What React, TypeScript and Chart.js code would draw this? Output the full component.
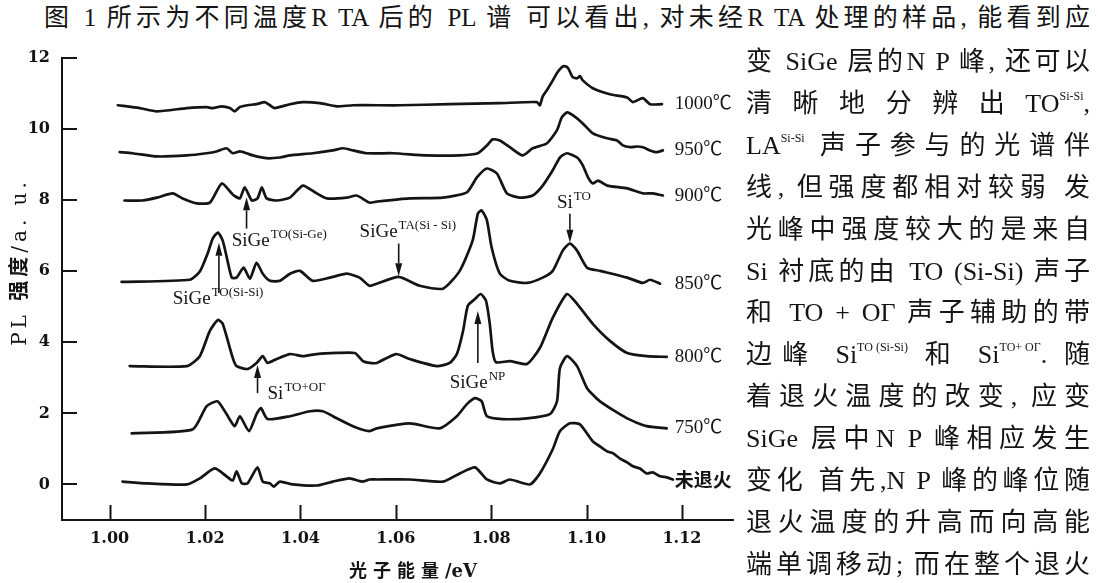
import React, { useEffect, useRef } from "react";
import { Chart, registerables } from "chart.js";

Chart.register(...registerables);

// ---------- data ----------
const energyTicks = [1.0, 1.02, 1.04, 1.06, 1.08, 1.1, 1.12];
const intensityTicks = [0, 2, 4, 6, 8, 10, 12];
const seriesNames = ["1000℃", "950℃", "900℃", "850℃", "800℃", "750℃", "未退火"];

const e1000 = [1.0017, 1.0063, 1.0099, 1.0162, 1.0203, 1.0216, 1.0235, 1.0252, 1.0262, 1.0273, 1.0289, 1.0308, 1.0325, 1.0336, 1.0346, 1.0378, 1.0405, 1.0441, 1.0476, 1.051, 1.0608, 1.0713, 1.0818, 1.0896, 1.0902, 1.0908, 1.0917, 1.0927, 1.0938, 1.0948, 1.0954, 1.0961, 1.0971, 1.098, 1.0986, 1.0992, 1.1013, 1.1049, 1.1085, 1.1097, 1.1118, 1.1133, 1.1158];
const i1000 = [10.67, 10.59, 10.5, 10.59, 10.62, 10.59, 10.64, 10.59, 10.5, 10.62, 10.67, 10.7, 10.76, 10.67, 10.59, 10.7, 10.76, 10.73, 10.64, 10.67, 10.67, 10.7, 10.73, 10.76, 10.67, 10.92, 11.1, 11.32, 11.58, 11.74, 11.77, 11.72, 11.46, 11.43, 11.49, 11.37, 11.15, 10.98, 10.89, 10.76, 10.87, 10.7, 10.7];

const e950 = [1.0021, 1.0048, 1.0099, 1.0162, 1.0203, 1.0224, 1.0245, 1.0258, 1.0273, 1.0287, 1.03, 1.0329, 1.0357, 1.0378, 1.0426, 1.0468, 1.0489, 1.051, 1.0539, 1.0594, 1.0665, 1.0734, 1.0772, 1.0791, 1.0803, 1.0818, 1.0839, 1.0866, 1.0887, 1.0917, 1.0938, 1.0948, 1.0959, 1.0971, 1.0992, 1.1013, 1.1043, 1.1064, 1.1076, 1.1091, 1.1106, 1.1118, 1.1133, 1.1147, 1.116];
const i950 = [9.35, 9.32, 9.23, 9.26, 9.32, 9.37, 9.46, 9.32, 9.37, 9.32, 9.26, 9.18, 9.2, 9.26, 9.32, 9.4, 9.46, 9.4, 9.32, 9.32, 9.26, 9.26, 9.32, 9.54, 9.71, 9.68, 9.49, 9.26, 9.46, 9.6, 9.97, 10.33, 10.47, 10.39, 10.16, 9.88, 9.74, 9.68, 9.54, 9.49, 9.51, 9.49, 9.4, 9.35, 9.4];

const e900 = [1.0031, 1.0069, 1.0099, 1.0132, 1.0153, 1.0183, 1.021, 1.0235, 1.0258, 1.0273, 1.0283, 1.0298, 1.031, 1.0319, 1.0329, 1.035, 1.0378, 1.0405, 1.0434, 1.0455, 1.0497, 1.0518, 1.0545, 1.056, 1.0629, 1.0699, 1.0749, 1.077, 1.0791, 1.0812, 1.0833, 1.086, 1.0887, 1.0908, 1.0929, 1.0944, 1.0959, 1.098, 1.0992, 1.1003, 1.1013, 1.1024, 1.1043, 1.1085, 1.1118, 1.1139, 1.116];
const i900 = [7.99, 7.99, 8.07, 8.19, 8.05, 7.91, 7.93, 8.47, 8.16, 8.05, 8.36, 7.99, 8.05, 8.36, 8.05, 7.99, 8.07, 8.41, 8.19, 8.05, 8.07, 8.13, 7.93, 7.96, 8.05, 8.07, 8.22, 8.64, 8.89, 8.75, 8.19, 8.07, 8.13, 8.41, 8.84, 9.2, 9.32, 9.2, 8.98, 8.64, 8.47, 8.55, 8.41, 8.33, 8.19, 8.19, 8.13];

const e850 = [1.0025, 1.0168, 1.0189, 1.0206, 1.0216, 1.0227, 1.0237, 1.0247, 1.0256, 1.0266, 1.0281, 1.0294, 1.0308, 1.0321, 1.0336, 1.0357, 1.0378, 1.0399, 1.0426, 1.0462, 1.0497, 1.0524, 1.0545, 1.056, 1.0606, 1.065, 1.0699, 1.0734, 1.0761, 1.0772, 1.078, 1.0791, 1.0801, 1.0818, 1.0839, 1.0875, 1.0908, 1.0929, 1.095, 1.0965, 1.098, 1.1001, 1.1028, 1.1085, 1.1118, 1.1133, 1.1154];
const i850 = [5.7, 5.76, 5.99, 6.52, 6.92, 7.09, 6.86, 6.3, 5.82, 5.82, 6.1, 5.79, 6.24, 5.93, 5.73, 5.73, 5.93, 6.01, 5.73, 5.82, 5.93, 5.82, 5.59, 5.65, 5.84, 5.59, 5.51, 6.01, 6.86, 7.62, 7.71, 7.43, 6.66, 5.93, 5.73, 5.67, 5.82, 6.01, 6.58, 6.78, 6.58, 6.1, 6.01, 5.82, 5.67, 5.76, 5.65];

const e800 = [1.0042, 1.0162, 1.0189, 1.021, 1.0227, 1.0237, 1.0258, 1.0266, 1.0289, 1.0308, 1.0321, 1.0331, 1.035, 1.0378, 1.0405, 1.0434, 1.0476, 1.0514, 1.0531, 1.0545, 1.056, 1.06, 1.0629, 1.0686, 1.0713, 1.0728, 1.0741, 1.0751, 1.0766, 1.0778, 1.0789, 1.0797, 1.0803, 1.081, 1.0839, 1.0875, 1.0902, 1.0929, 1.0959, 1.098, 1.1013, 1.1049, 1.1085, 1.1126, 1.1168];
const i800 = [3.33, 3.33, 3.61, 4.32, 4.63, 4.52, 3.56, 3.33, 3.25, 3.42, 3.61, 3.42, 3.53, 3.67, 3.61, 3.67, 3.7, 3.7, 3.47, 3.42, 3.42, 3.67, 3.53, 3.33, 3.42, 3.67, 4.32, 5.03, 5.22, 5.36, 5.17, 4.52, 3.75, 3.44, 3.47, 3.39, 3.84, 4.69, 5.36, 5.08, 4.52, 4.04, 3.7, 3.61, 3.59];

const e750 = [1.0046, 1.0174, 1.0203, 1.0226, 1.0245, 1.0262, 1.0273, 1.0292, 1.0308, 1.0317, 1.0331, 1.0378, 1.042, 1.0447, 1.0468, 1.051, 1.0545, 1.056, 1.0629, 1.0692, 1.0728, 1.0749, 1.0766, 1.078, 1.0791, 1.0824, 1.0875, 1.0923, 1.0938, 1.0944, 1.0959, 1.098, 1.1001, 1.1028, 1.1085, 1.1126, 1.1168];
const i750 = [1.44, 1.55, 2.2, 2.34, 1.98, 1.64, 1.92, 1.5, 1.98, 2.15, 1.84, 1.92, 2.06, 2.06, 1.92, 1.64, 1.5, 1.58, 1.72, 1.58, 1.92, 2.26, 2.43, 2.34, 1.92, 1.84, 1.86, 1.98, 2.34, 3.27, 3.61, 3.33, 2.71, 2.34, 1.86, 1.64, 1.58];

const e0 = [1.0027, 1.0078, 1.0162, 1.0189, 1.022, 1.0245, 1.0258, 1.0266, 1.0277, 1.0289, 1.031, 1.0321, 1.0336, 1.0344, 1.0357, 1.0384, 1.0434, 1.0468, 1.0503, 1.0529, 1.0545, 1.056, 1.0629, 1.0699, 1.0734, 1.0766, 1.0791, 1.0818, 1.0839, 1.0881, 1.0902, 1.0929, 1.0944, 1.0965, 1.0986, 1.1013, 1.1028, 1.1043, 1.1055, 1.107, 1.1085, 1.1097, 1.1112, 1.1126, 1.1139, 1.1154, 1.1168, 1.1181];
const i0 = [0.08, 0.03, 0.0, 0.17, 0.45, 0.23, 0.11, 0.37, 0.03, 0.03, 0.48, 0.08, 0.03, -0.06, 0.08, 0.0, -0.03, 0.08, 0.17, 0.08, 0.14, 0.14, 0.14, 0.08, 0.31, 0.48, 0.14, 0.03, 0.14, 0.0, 0.31, 0.99, 1.5, 1.72, 1.69, 1.21, 1.07, 0.93, 0.88, 0.73, 0.62, 0.51, 0.45, 0.31, 0.34, 0.23, 0.2, 0.14];

const seriesEnergy = [e1000, e950, e900, e850, e800, e750, e0];
const seriesIntensity = [i1000, i950, i900, i850, i800, i750, i0];

// annotation anchors in data units (energy / intensity)
const annotations = [
  { base: "SiGe", sup: "TO(Si-Ge)", textE: 1.0256, textI: 6.72, arrowE: 1.0287, tailI: 7.2, headI: 8.08 },
  { base: "SiGe", sup: "TO(Si-Si)", textE: 1.0132, textI: 5.08, arrowE: 1.0229, tailI: 5.39, headI: 6.8 },
  { base: "SiGe", sup: "TA(Si - Si)", textE: 1.0524, textI: 6.95, arrowE: 1.0606, tailI: 6.78, headI: 5.86 },
  { base: "Si", sup: "TO", textE: 1.0938, textI: 7.79, arrowE: 1.0965, tailI: 7.62, headI: 6.8 },
  { base: "Si", sup: "TO+OΓ", textE: 1.0331, textI: 2.4, arrowE: 1.031, tailI: 2.57, headI: 3.36 },
  { base: "SiGe", sup: "NP", textE: 1.0713, textI: 2.71, arrowE: 1.0772, tailI: 3.42, headI: 4.88 },
];
const labelEnergy = 1.1185;

const INK = "#141414";
const SERIF = "'Liberation Serif', 'Noto Sans CJK SC', serif";

const decorPlugin = {
  id: "decor",
  afterDraw(chart: any) {
    const { ctx, chartArea, scales } = chart;
    const xs = scales.x;
    const ys = scales.y;
    ctx.save();
    // inward ticks
    ctx.strokeStyle = INK;
    ctx.lineWidth = 2;
    xs.ticks.forEach((t: any) => {
      const px = Math.round(xs.getPixelForValue(t.value)) + 0.5;
      ctx.beginPath();
      ctx.moveTo(px, chartArea.bottom);
      ctx.lineTo(px, chartArea.bottom - 15);
      ctx.stroke();
    });
    ys.ticks.forEach((t: any) => {
      const py = Math.round(ys.getPixelForValue(t.value));
      ctx.beginPath();
      ctx.moveTo(chartArea.left, py);
      ctx.lineTo(chartArea.left + 15, py);
      ctx.stroke();
    });

    // arrows + annotation text
    annotations.forEach((a) => {
      const ax = xs.getPixelForValue(a.arrowE);
      const ty = ys.getPixelForValue(a.tailI);
      const hy = ys.getPixelForValue(a.headI);
      const dir = hy < ty ? -1 : 1;
      const headLen = 13;
      ctx.lineWidth = 1.6;
      ctx.beginPath();
      ctx.moveTo(ax, ty);
      ctx.lineTo(ax, hy - dir * headLen);
      ctx.stroke();
      ctx.fillStyle = INK;
      ctx.beginPath();
      ctx.moveTo(ax, hy);
      ctx.lineTo(ax - 3.5, hy - dir * headLen);
      ctx.lineTo(ax + 3.5, hy - dir * headLen);
      ctx.closePath();
      ctx.fill();

      const tx = xs.getPixelForValue(a.textE);
      const tb = ys.getPixelForValue(a.textI);
      ctx.textBaseline = "alphabetic";
      ctx.textAlign = "left";
      ctx.font = `19px ${SERIF}`;
      ctx.fillText(a.base, tx, tb);
      const w = ctx.measureText(a.base).width;
      ctx.font = `13px ${SERIF}`;
      ctx.fillText(a.sup, tx + w + 1, tb - 8);
    });

    // series labels
    seriesNames.forEach((name, i) => {
      const vals = seriesIntensity[i];
      const py = ys.getPixelForValue(vals[vals.length - 1]);
      const px = xs.getPixelForValue(labelEnergy);
      ctx.textBaseline = "middle";
      ctx.textAlign = "left";
      ctx.fillStyle = INK;
      ctx.font = i === 6 ? `bold 19px 'Noto Sans CJK SC', sans-serif` : `19px ${SERIF}`;
      ctx.fillText(name, px, py);
    });
    ctx.restore();
  },
};

const sup = (t: string) => (
  <sup
    style={{
      fontSize: 12,
      verticalAlign: "baseline",
      position: "relative",
      top: -12,
      lineHeight: 0,
      display: "inline-block",
      whiteSpace: "nowrap",
    }}
  >
    {t}
  </sup>
);

const bodyLines: React.ReactNode[] = [
  <>变 SiGe 层的N P 峰, 还可以</>,
  <>清 晰 地 分 辨 出 TO{sup("Si-Si")},</>,
  <>LA{sup("Si-Si")} 声子参与的光谱伴</>,
  <>线, 但强度都相对较弱 发</>,
  <>光峰中强度较大的是来自</>,
  <>Si 衬底的由 TO (Si-Si) 声子</>,
  <>和 TO + OΓ 声子辅助的带</>,
  <>边峰 Si{sup("TO (Si-Si)")} 和 Si{sup("TO+ OΓ")}. 随</>,
  <>着退火温度的改变, 应变</>,
  <>SiGe 层中N P 峰相应发生</>,
  <>变化 首先,N P 峰的峰位随</>,
  <>退火温度的升高而向高能</>,
  <>端单调移动; 而在整个退火</>,
];

export default function App() {
  const ref = useRef<HTMLCanvasElement>(null);

  useEffect(() => {
    const canvas = ref.current;
    if (!canvas) return;
    const datasets = seriesNames.map((name, i) => ({
      label: name,
      data: seriesEnergy[i].map((e, k) => ({ x: e, y: seriesIntensity[i][k] })),
      borderColor: INK,
      borderWidth: 2.7,
      pointRadius: 0,
      tension: 0.2,
      fill: false,
      borderJoinStyle: "round" as const,
      borderCapStyle: "round" as const,
    }));
    const tickFont = { family: "'DejaVu Serif', serif", size: 16, weight: "bold" as const };
    const chart = new Chart(canvas, {
      type: "line",
      data: { datasets },
      plugins: [decorPlugin],
      options: {
        animation: false,
        responsive: false,
        devicePixelRatio: 1,
        layout: { padding: { left: 0, top: 58, right: 17, bottom: 0 } },
        plugins: { legend: { display: false }, tooltip: { enabled: false } },
        scales: {
          x: {
            type: "linear",
            min: 0.99,
            max: 1.1307,
            bounds: "data",
            grid: { display: false, drawTicks: false },
            border: { display: true, color: INK, width: 2 },
            ticks: {
              color: INK,
              font: tickFont,
              padding: 9,
              maxRotation: 0,
              autoSkip: false,
              callback: (v: any) => Number(v).toFixed(2),
            },
            afterBuildTicks: (scale: any) => {
              scale.ticks = energyTicks.map((v) => ({ value: v }));
            },
            afterFit: (scale: any) => {
              scale.height = 63;
            },
          },
          y: {
            type: "linear",
            min: -1,
            max: 12,
            grid: { display: false, drawTicks: false },
            border: { display: true, color: INK, width: 2 },
            ticks: { color: INK, font: tickFont, padding: 12, autoSkip: false },
            afterBuildTicks: (scale: any) => {
              scale.ticks = intensityTicks.map((v) => ({ value: v }));
            },
            afterFit: (scale: any) => {
              scale.width = 62;
            },
          },
        },
      },
    });
    return () => chart.destroy();
  }, []);

  const bodyFont = "'Liberation Serif', 'Noto Sans CJK SC', serif";

  return (
    <div
      style={{
        position: "fixed",
        left: 0,
        top: 0,
        width: 1098,
        height: 583,
        background: "#fff",
        overflow: "hidden",
        color: INK,
      }}
    >
      <div
        style={{
          position: "absolute",
          left: 44,
          top: 0,
          width: 1046,
          height: 36,
          lineHeight: "36px",
          fontSize: 25,
          fontFamily: bodyFont,
          textAlign: "justify",
          textAlignLast: "justify",
        }}
      >
        图 1 所示为不同温度R TA 后的 PL 谱 可以看出, 对未经R TA 处理的样品, 能看到应
      </div>

      <canvas ref={ref} width={750} height={583} style={{ position: "absolute", left: 0, top: 0, width: 750, height: 583 }} />

      {bodyLines.map((line, k) => (
        <div
          key={k}
          style={{
            position: "absolute",
            left: 746,
            top: 62 + k * 41.9 - 21,
            width: 344,
            height: 42,
            lineHeight: "42px",
            fontSize: 26,
            fontFamily: bodyFont,
            textAlign: "justify",
            textAlignLast: "justify",
          }}
        >
          {line}
        </div>
      ))}

      <div
        style={{
          position: "absolute",
          left: 18 - 110,
          top: 262 - 13,
          width: 220,
          height: 26,
          lineHeight: "26px",
          textAlign: "center",
          transform: "rotate(-90deg)",
          fontSize: 20,
          letterSpacing: 4,
          fontFamily: "'DejaVu Serif', 'Noto Sans CJK SC', serif",
          whiteSpace: "nowrap",
        }}
      >
        PL <span style={{ fontWeight: 700, fontFamily: "'Noto Sans CJK SC', sans-serif" }}>强度</span>/a. u.
      </div>

      <div
        style={{
          position: "absolute",
          left: 313,
          top: 557,
          width: 200,
          height: 24,
          lineHeight: "24px",
          textAlign: "center",
          fontSize: 18,
          fontWeight: 700,
          fontFamily: "'Noto Sans CJK SC', sans-serif",
          whiteSpace: "nowrap",
        }}
      >
        <span style={{ letterSpacing: 6 }}>光子能量</span>
        <span style={{ fontFamily: "'DejaVu Serif', serif" }}>/eV</span>
      </div>
    </div>
  );
}
